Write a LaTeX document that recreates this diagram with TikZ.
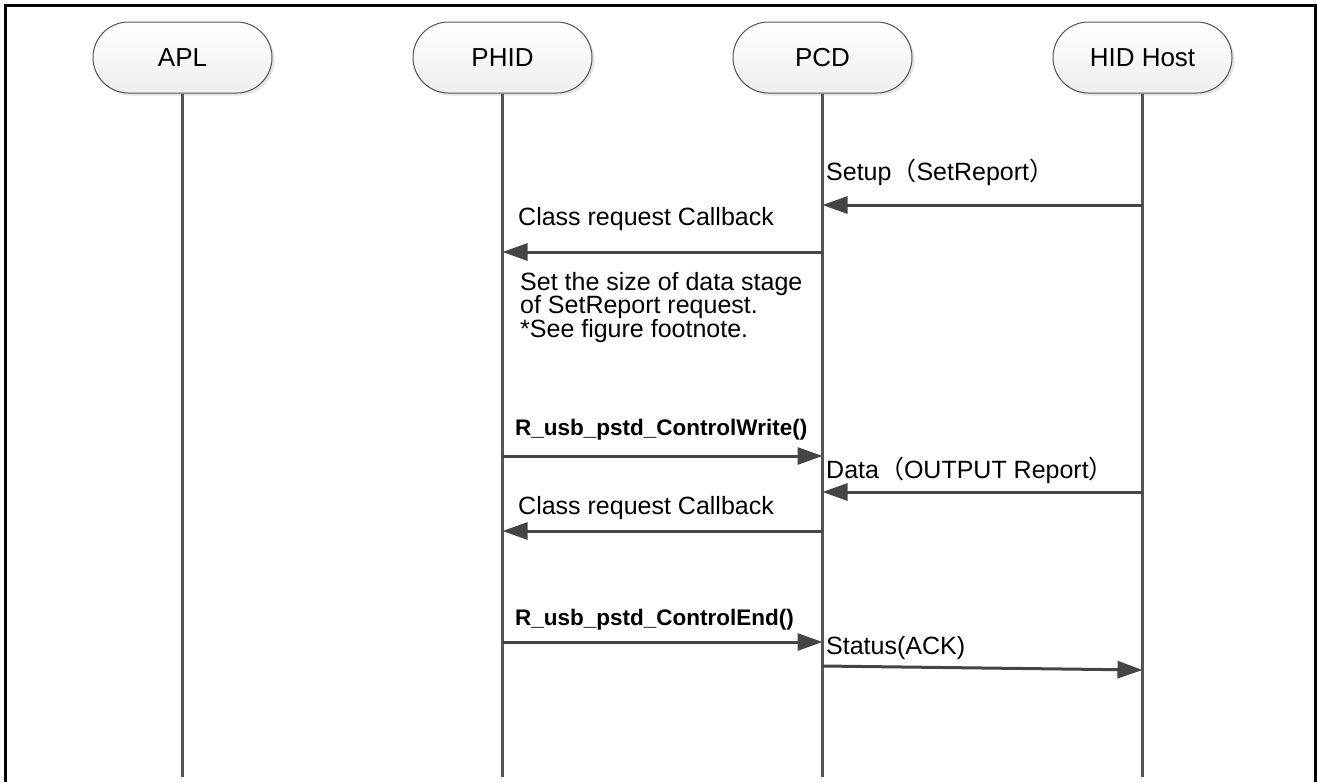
\documentclass[tikz,border=0pt]{standalone}
\usepackage{fontspec}
\setmainfont{Liberation Sans}
\newfontfamily\cjkf{Noto Sans CJK SC}
\usetikzlibrary{arrows.meta,shadows,shapes.misc}
\definecolor{lineg}{HTML}{555555}
\definecolor{arrg}{HTML}{454545}
\newcommand{\lblfont}{\fontsize{25}{23.5}\selectfont}
\newcommand{\hdrfont}{\fontsize{26}{30}\selectfont}
\newcommand{\fnfont}{\fontsize{22.5}{26}\selectfont\bfseries}
\newcommand{\lp}{{\cjkf （}}
\newcommand{\rp}{{\cjkf ）}}
\begin{document}
\begin{tikzpicture}[x=1pt,y=-1pt,
  hdr/.style={rounded rectangle, draw=lineg, line width=1pt, minimum width=179pt, minimum height=71pt,
    top color=white, bottom color=gray!13, font=\hdrfont, inner sep=0pt,
    drop shadow={shadow xshift=2.5pt, shadow yshift=-2.5pt, fill=gray!35, opacity=0.6}},
  lifeline/.style={draw=lineg, line width=2.6pt},
  msg/.style={draw=arrg, line width=3pt, -{Triangle[length=25pt,width=17pt]}},
  lbl/.style={anchor=west, font=\lblfont, inner sep=0pt},
  fn/.style={anchor=west, font=\fnfont, inner sep=0pt}]
\useasboundingbox (0,0) rectangle (1317,782);
\fill[white] (0,0) rectangle (1317,782);
\draw[line width=3pt, black] (5,782) -- (5,5) -- (1315.5,5) -- (1315.5,782);

\node[hdr] (apl) at (182.5,57.5) {APL};
\node[hdr] (phid) at (502.5,57.5) {PHID};
\node[hdr] (pcd) at (822.5,57.5) {PCD};
\node[hdr] (hid) at (1142.5,57.5) {HID Host};

\coordinate (aplE) at (182.5,777);
\coordinate (phidE) at (502.5,777);
\coordinate (pcdE) at (822.5,777);
\coordinate (hidE) at (1142.5,777);
\draw[lifeline] (apl.south) -- (aplE);
\draw[lifeline] (phid.south) -- (phidE);
\draw[lifeline] (pcd.south) -- (pcdE);
\draw[lifeline] (hid.south) -- (hidE);

% message endpoints
\coordinate (m1a) at (1142.5,205);  \coordinate (m1b) at (822.5,205);
\coordinate (m2a) at (822.5,252);   \coordinate (m2b) at (502.5,252);
\coordinate (m3a) at (502.5,456);   \coordinate (m3b) at (822.5,456);
\coordinate (m4a) at (1142.5,492);  \coordinate (m4b) at (822.5,492);
\coordinate (m5a) at (822.5,531);   \coordinate (m5b) at (502.5,531);
\coordinate (m6a) at (502.5,642);   \coordinate (m6b) at (822.5,642);
\coordinate (m7a) at (822.5,666);   \coordinate (m7b) at (1142.5,670);

\draw[msg] (m1a) -- (m1b);
\draw[msg] (m2a) -- (m2b);
\draw[msg] (m3a) -- (m3b);
\draw[msg] (m4a) -- (m4b);
\draw[msg] (m5a) -- (m5b);
\draw[msg] (m6a) -- (m6b);
\draw[msg] (m7a) -- (m7b);

\node[lbl] (t1) at (826,172) {Setup\lp SetReport\rp};
\node[lbl] (t2) at (518,219) {Class request Callback};
\node[lbl, anchor=north west, align=left] (t3) at (520,272) {Set the size of data stage\\of SetReport request.\\*See figure footnote.};
\node[fn] (t4) at (515,430) {R\_usb\_pstd\_ControlWrite()};
\node[lbl] (t5) at (826,470) {Data\lp OUTPUT Report\rp};
\node[lbl] (t6) at (518,508) {Class request Callback};
\node[fn] (t7) at (515,620) {R\_usb\_pstd\_ControlEnd()};
\node[lbl] (t8) at (826,648) {Status(ACK)};
\end{tikzpicture}
\end{document}
